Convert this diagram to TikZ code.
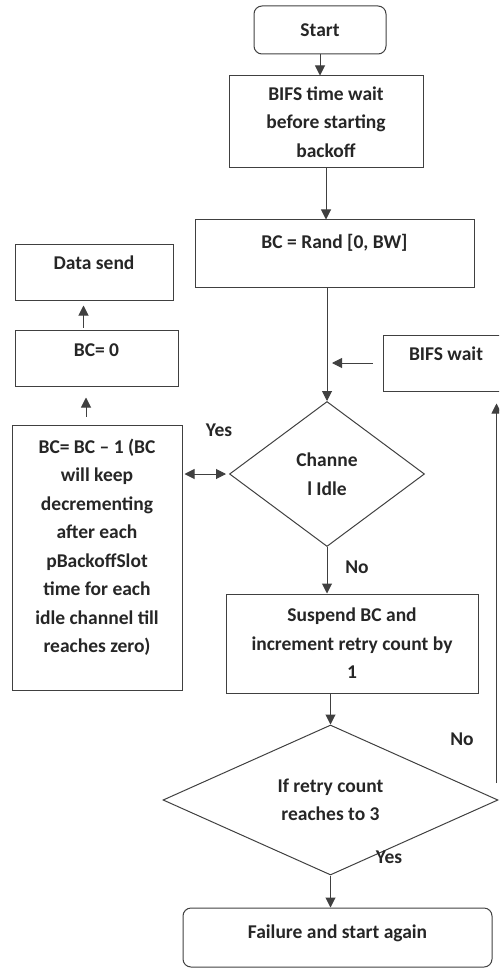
\documentclass[tikz,border=0pt]{standalone}
\usepackage{fontspec}
\setmainfont{Carlito}
\usetikzlibrary{positioning}
\usetikzlibrary{shapes.geometric}
\usetikzlibrary{arrows.meta}
\definecolor{linegray}{HTML}{404040}
\definecolor{textgray}{HTML}{262626}

\begin{document}
\begin{tikzpicture}
		[x=1pt, y=-1pt,
		font=\bfseries\fontsize{19.5}{28.5}\selectfont,
		box/.style={rectangle, draw=linegray, line width=1pt, text=textgray, align=center, inner sep=2pt},
		terminal/.style={box, rounded corners=8pt},
		decision/.style={diamond, draw=linegray, line width=1pt, text=textgray, align=center, inner sep=0pt, aspect=2.2},
		arr/.style={-{Triangle[length=10pt, width=10pt]}, draw=linegray, line width=1pt},
		darr/.style={{Triangle[length=10pt, width=10pt]}-{Triangle[length=10pt, width=10pt]}, draw=linegray, line width=1pt},
		lbl/.style={text=textgray}]
		\useasboundingbox (0,0) rectangle (499,968);
		\clip (0,0) rectangle (499,968);

		\node[terminal, minimum width=132pt, minimum height=48pt] (start) at (320,30) {Start};
		\node[box, minimum width=194pt, minimum height=92pt] (bifs) at (326,122) {BIFS time wait\\before starting\\backoff};
		\node[box, minimum width=279pt, minimum height=67pt, text height=14pt, text depth=24pt] (rand) at (334.5,253.5) {BC = Rand [0, BW]};
		\node[box, minimum width=158pt, minimum height=56pt, text height=14pt, text depth=19pt] (send) at (94,272) {Data send};
		\node[box, minimum width=163pt, minimum height=56pt, text height=14pt, text depth=17pt] (zero) at (96.5,358) {BC= 0};
		\node[box, minimum width=170pt, minimum height=265pt, text height=213.5pt, text depth=23pt] (dec) at (97,557.5) {BC= BC -- 1 (BC\\will keep\\decrementing\\after each\\pBackoffSlot\\time for each\\idle channel till\\reaches zero)};
		\node[decision, minimum width=195pt, minimum height=145pt] (idle) at (327,474) {Channe\\l Idle};
		\node[box, minimum width=126pt, minimum height=56pt, text height=14pt, text depth=19pt] (wait) at (446,363) {BIFS wait};
		\node[box, minimum width=252pt, minimum height=99pt] (suspend) at (352,643.5) {Suspend BC and\\increment retry count by\\1};
		\node[decision, minimum width=335pt, minimum height=150pt] (retry) at (330.5,800) {If retry count\\reaches to 3};
		\node[terminal, minimum width=309pt, minimum height=59pt, text height=14pt, text depth=13pt] (fail) at (337.5,937.5) {Failure and start again};

		\node[lbl] (yesidle) at (219,430) {Yes};
		\node[lbl] (noidle) at (357,567) {No};
		\node[lbl] (noretry) at (462,739) {No};
		\node[lbl] (yesretry) at (389,857) {Yes};

		\draw[arr] (start.south) -- (start.south |- bifs.north);
		\draw[arr] (bifs.south) -- (bifs.south |- rand.north);
		\draw[arr] (rand.south -| idle.north) -- (idle.north);
		\draw[arr, shorten <=10pt, shorten >=5pt] (wait.west) -- (wait.west -| idle.north);
		\draw[darr, shorten <=2pt, shorten >=3pt] (dec.east |- idle.west) -- (idle.west);
		\draw[arr, shorten <=8pt, shorten >=11pt] ([xshift=-11pt]dec.north) -- ([xshift=-11pt]dec.north |- zero.south);
		\draw[arr, shorten <=2pt, shorten >=5pt] ([xshift=-13pt]zero.north) -- ([xshift=-13pt]zero.north |- send.south);
		\draw[arr] (idle.south) -- (idle.south |- suspend.north);
		\draw[arr] (suspend.south -| retry.north) -- (retry.north);
		\draw[arr] (retry.south) -- (retry.south |- fail.north);
		\draw[arr, shorten >=12pt] ([xshift=-2pt, yshift=17pt]retry.east) -- ([xshift=-2pt]retry.east |- wait.south);
	\end{tikzpicture}
\end{document}
